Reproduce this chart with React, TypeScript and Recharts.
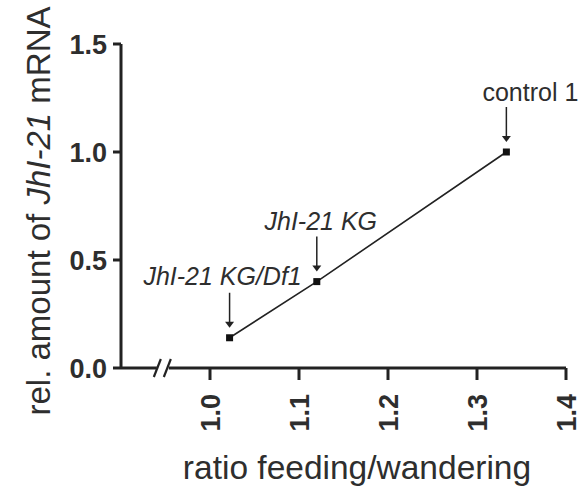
import { LineChart, Line, XAxis, YAxis, ReferenceDot, Label } from 'recharts'

// values
const ratios = [1.022, 1.12, 1.333]
const mrnaLevels = [0.14, 0.4, 1.0]
const genotypes = ['JhI-21 KG/Df1', 'JhI-21 KG', 'control 1']
const italicLabel = [true, true, false]
const xTicks = [1.0, 1.1, 1.2, 1.3, 1.4]
const yTicks = [0.0, 0.5, 1.0, 1.5]
const xDomain = [0.9, 1.4]
const yDomain = [0, 1.5]
const axisBreakAt = 0.947

const data = ratios.map((r, i) => ({ ratio: r, level: mrnaLevels[i], name: genotypes[i] }))

const INK = '#222'
const TEXT = '#2e2e2e'
const FONT = '"Liberation Sans", Arial, Helvetica, sans-serif'

// label offsets relative to each point (dx for text centre, dy for baseline)
const labelOffset = [
  { dx: -7, dy: -53 },
  { dx: 4, dy: -52 },
  { dx: 24, dy: -51 },
]

// eslint-disable-next-line @typescript-eslint/no-explicit-any
const YTick = ({ x, y, payload }: any) => (
  <text x={x} y={y} dy="0.36em" textAnchor="end" fontFamily={FONT} fontWeight="bold" fontSize={27} fill={TEXT}>
    {payload.value.toFixed(1)}
  </text>
)

// eslint-disable-next-line @typescript-eslint/no-explicit-any
const XTick = ({ x, y, payload }: any) => (
  <text
    x={x}
    y={y}
    dy="0.36em"
    textAnchor="end"
    transform={`rotate(-90, ${x}, ${y})`}
    fontFamily={FONT}
    fontWeight="bold"
    fontSize={27}
    fill={TEXT}
  >
    {payload.value.toFixed(1)}
  </text>
)

// eslint-disable-next-line @typescript-eslint/no-explicit-any
const SquareDot = ({ cx, cy, index }: any) => (
  <rect key={`dot-${index}`} x={cx - 3.5} y={cy - 3.5} width={7} height={7} fill="#111" />
)

// eslint-disable-next-line @typescript-eslint/no-explicit-any
const Annotation = ({ x, y, index }: any) => {
  const off = labelOffset[index]
  const top = y - 45
  const tip = y - 10
  return (
    <g key={`ann-${index}`}>
      <line x1={x} y1={top} x2={x} y2={tip - 4} stroke={INK} strokeWidth={1.5} />
      <polygon points={`${x - 4.5},${tip - 6} ${x + 4.5},${tip - 6} ${x},${tip}`} fill={INK} />
      <text
        x={x + off.dx}
        y={y + off.dy}
        textAnchor="middle"
        fontFamily={FONT}
        fontSize={25}
        fontStyle={italicLabel[index] ? 'italic' : 'normal'}
        fill={TEXT}
      >
        {genotypes[index]}
      </text>
    </g>
  )
}

// eslint-disable-next-line @typescript-eslint/no-explicit-any
const AxisBreak = ({ cx, cy }: any) => (
  <g>
    <rect x={cx - 6} y={cy - 3} width={12} height={6} fill="#fff" />
    <line x1={cx - 9} y1={cy + 9} x2={cx - 2} y2={cy - 9} stroke={INK} strokeWidth={2.2} />
    <line x1={cx + 1} y1={cy + 9} x2={cx + 8} y2={cy - 9} stroke={INK} strokeWidth={2.2} />
  </g>
)

const YTitle = () => {
  const x = 50
  const y = 211
  return (
    <text x={x} y={y} textAnchor="middle" transform={`rotate(-90, ${x}, ${y})`} fontFamily={FONT} fontSize={33} fill={TEXT}>
      rel. amount of <tspan fontStyle="italic">JhI-21</tspan> mRNA
    </text>
  )
}

const XTitle = () => (
  <text x={357} y={479} textAnchor="middle" fontFamily={FONT} fontSize={33.5} fill={TEXT}>
    ratio feeding/wandering
  </text>
)

export default function App() {
  return (
    <div style={{ position: 'absolute', left: 0, top: 0, width: 585, height: 496, background: '#fff' }}>
      <LineChart width={585} height={496} data={data} margin={{ top: 44, right: 19, left: 61, bottom: 48 }}>
        <XAxis
          type="number"
          dataKey="ratio"
          domain={xDomain}
          ticks={xTicks}
          allowDataOverflow
          height={80}
          tickSize={12}
          tickMargin={14}
          tick={<XTick />}
          axisLine={{ stroke: INK, strokeWidth: 3 }}
          tickLine={{ stroke: INK, strokeWidth: 3 }}
        >
          <Label content={<XTitle />} />
        </XAxis>
        <YAxis
          type="number"
          domain={yDomain}
          ticks={yTicks}
          width={60}
          tickSize={8}
          tickMargin={6}
          tick={<YTick />}
          axisLine={{ stroke: INK, strokeWidth: 3 }}
          tickLine={{ stroke: INK, strokeWidth: 3 }}
        >
          <Label content={<YTitle />} />
        </YAxis>
        <Line
          type="linear"
          dataKey="level"
          stroke={INK}
          strokeWidth={1.6}
          dot={<SquareDot />}
          activeDot={false}
          label={<Annotation />}
          isAnimationActive={false}
        />
        <ReferenceDot x={axisBreakAt} y={0} ifOverflow="visible" shape={<AxisBreak />} />
      </LineChart>
    </div>
  )
}
